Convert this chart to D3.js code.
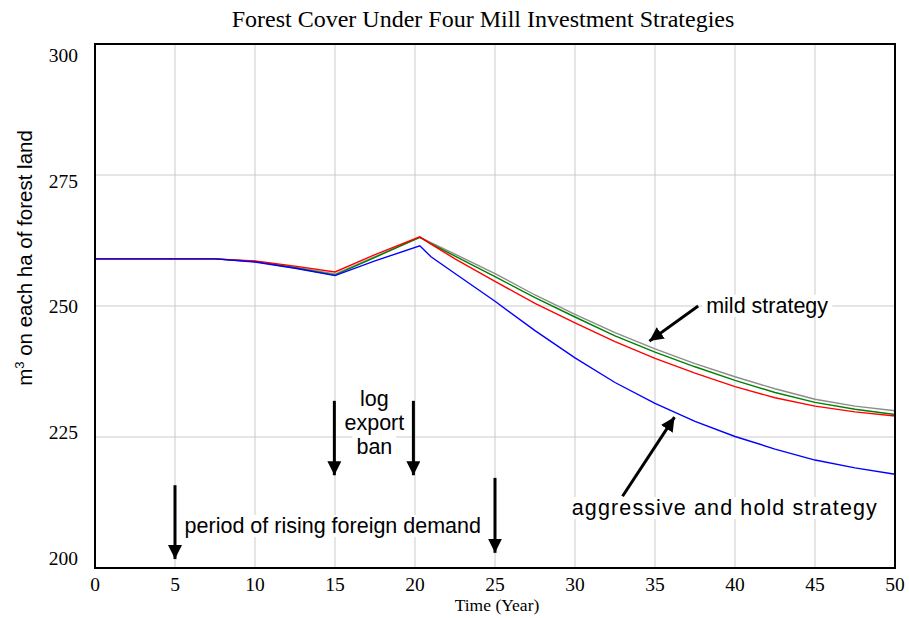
<!DOCTYPE html>
<html>
<head>
<meta charset="utf-8">
<script src="https://cdn.jsdelivr.net/npm/d3@7"></script>
<style>
  body { margin: 0; background: #fff; }
  svg { display: block; }
  .serif { font-family: "Liberation Serif", "Times New Roman", serif; }
  .sans { font-family: "Liberation Sans", Arial, sans-serif; }
</style>
</head>
<body>
<div id="chart"></div>
<script>
// years
const years = [0, 7.5, 10, 12.5, 15, 17.5, 20.3, 21, 22.5, 25, 27.5, 30, 32.5, 35, 37.5, 40, 42.5, 45, 47.5, 50];

// forest stock (m3 per ha) per strategy
const mildValues = [259, 259, 258.5, 257.4, 256.1, 259.4, 263.1, 262.1, 259.9, 256.2, 252.1, 248.4, 244.9, 241.8, 239.0, 236.5, 234.2, 232.2, 230.9, 230.0];
const moderateValues = [259, 259, 258.5, 257.3, 255.9, 259.3, 263.1, 261.9, 259.5, 255.6, 251.6, 247.9, 244.3, 241.2, 238.4, 235.8, 233.5, 231.6, 230.3, 229.3];
const strongValues = [259, 259, 258.6, 257.6, 256.5, 259.8, 263.2, 261.8, 259.0, 254.7, 250.5, 246.8, 243.2, 240.0, 237.2, 234.6, 232.5, 230.9, 229.8, 229.0];
const aggressiveValues = [259, 259, 258.4, 257.2, 255.8, 258.6, 261.5, 259.4, 256.2, 250.9, 245.3, 240.1, 235.4, 231.4, 228.0, 225.1, 222.7, 220.6, 219.1, 217.9];

const seriesNames = ["mild", "moderate", "strong", "aggressive"];
const seriesColors = ["#8c8c8c", "#008000", "#ff0000", "#0000ff"];

const xTicks = [0, 5, 10, 15, 20, 25, 30, 35, 40, 45, 50];
const yTicks = [200, 225, 250, 275, 300];

// annotation arrows, in chart units [year, value]
const arrows = [
  [[5, 215.8], [5, 201.7]],
  [[25, 217.2], [25, 202.9]],
  [[14.96, 231.9], [14.96, 217.7]],
  [[19.9, 231.9], [19.9, 217.7]],
  [[37.7, 250.0], [34.65, 243.3]],
  [[32.97, 213.7], [36.22, 228.8]],
];

// annotation texts, [year, value, text, anchor, stretched width]
const notes = [
  [38.2, 248.7, "mild strategy", "start", 0],
  [29.8, 210.1, "aggressive and hold strategy", "start", 305],
  [5.6, 206.7, "period of rising foreign demand", "start", 0],
  [17.46, 230.9, "log", "middle", 0],
  [17.46, 226.3, "export", "middle", 0],
  [17.46, 221.8, "ban", "middle", 0],
];

const width = 909, height = 618;
const margin = { top: 44, right: 14, bottom: 50, left: 95 };

const svg = d3.select("#chart").append("svg")
  .attr("width", width)
  .attr("height", height);

const x = d3.scaleLinear().domain([0, 50]).range([margin.left, width - margin.right]);
const y = d3.scaleLinear().domain([200, 300]).range([height - margin.bottom, margin.top]);
// the y labels sit slightly inside the frame, as in the original
const yLabelPos = d3.scaleLinear().domain([200, 300]).range([558, 55]);

// grid
svg.append("g")
  .selectAll("line")
  .data(xTicks.slice(1, -1))
  .join("line")
  .attr("x1", d => x(d)).attr("x2", d => x(d))
  .attr("y1", y(300)).attr("y2", y(200))
  .attr("stroke", "#cbcbcb").attr("stroke-width", 1);

svg.append("g")
  .selectAll("line")
  .data(yTicks.slice(1, -1))
  .join("line")
  .attr("x1", x(0)).attr("x2", x(50))
  .attr("y1", d => y(d)).attr("y2", d => y(d))
  .attr("stroke", "#cbcbcb").attr("stroke-width", 1);

// series
const line = d3.line()
  .x(d => x(d[0]))
  .y(d => y(d[1]));

const allValues = [mildValues, moderateValues, strongValues, aggressiveValues];
allValues.forEach((vals, i) => {
  svg.append("path")
    .datum(years.map((t, j) => [t, vals[j]]))
    .attr("class", "series " + seriesNames[i])
    .attr("fill", "none")
    .attr("stroke", seriesColors[i])
    .attr("stroke-width", 1.4)
    .attr("d", line);
});

// frame
svg.append("rect")
  .attr("x", x(0)).attr("y", y(300))
  .attr("width", x(50) - x(0)).attr("height", y(200) - y(300))
  .attr("fill", "none").attr("stroke", "#000").attr("stroke-width", 2);

// tick labels
svg.append("g")
  .selectAll("text")
  .data(xTicks)
  .join("text")
  .attr("class", "serif")
  .attr("x", d => x(d))
  .attr("y", 591)
  .attr("text-anchor", "middle")
  .style("font-size", "19.5px")
  .text(d => d);

svg.append("g")
  .selectAll("text")
  .data(yTicks)
  .join("text")
  .attr("class", "serif")
  .attr("x", 78)
  .attr("y", d => yLabelPos(d))
  .attr("dy", "0.35em")
  .attr("text-anchor", "end")
  .style("font-size", "19.5px")
  .text(d => d);

// titles
svg.append("text")
  .attr("class", "serif")
  .attr("x", 483).attr("y", 27)
  .attr("text-anchor", "middle")
  .style("font-size", "24px")
  .text("Forest Cover Under Four Mill Investment Strategies");

svg.append("text")
  .attr("class", "serif")
  .attr("x", 497).attr("y", 611)
  .attr("text-anchor", "middle")
  .style("font-size", "17.5px")
  .text("Time (Year)");

const ylab = svg.append("text")
  .attr("class", "sans")
  .attr("transform", "translate(32,258) rotate(-90)")
  .attr("text-anchor", "middle")
  .style("font-size", "20.5px");
ylab.append("tspan").text("m");
ylab.append("tspan").attr("dy", -8).style("font-size", "13px").text("3");
ylab.append("tspan").attr("dy", 8).text(" on each ha of forest land");

// annotations: white boxes behind text
const noteG = svg.append("g");
notes.forEach(([t, v, label, anchor, stretch]) => {
  const txt = noteG.append("text")
    .attr("class", "sans")
    .attr("x", x(t)).attr("y", y(v))
    .attr("text-anchor", anchor)
    .style("font-size", "21.5px")
    .attr("fill", "#000")
    .text(label);
  if (stretch) {
    txt.attr("textLength", stretch).attr("lengthAdjust", "spacing");
  }
  const bb = txt.node().getBBox();
  noteG.insert("rect", () => txt.node())
    .attr("x", bb.x - 4).attr("y", bb.y + 1)
    .attr("width", bb.width + 8).attr("height", bb.height - 2)
    .attr("fill", "#fff");
});

// arrows
svg.append("defs").append("marker")
  .attr("id", "head")
  .attr("viewBox", "0 0 10 10")
  .attr("refX", 10).attr("refY", 5)
  .attr("markerWidth", 14).attr("markerHeight", 14)
  .attr("markerUnits", "userSpaceOnUse")
  .attr("orient", "auto")
  .append("path")
  .attr("d", "M0,0 L10,5 L0,10 Z")
  .attr("fill", "#000");

svg.append("g")
  .selectAll("line")
  .data(arrows)
  .join("line")
  .attr("x1", d => x(d[0][0])).attr("y1", d => y(d[0][1]))
  .attr("x2", d => x(d[1][0])).attr("y2", d => y(d[1][1]))
  .attr("stroke", "#000")
  .attr("stroke-width", 3)
  .attr("marker-end", "url(#head)");
</script>
</body>
</html>
